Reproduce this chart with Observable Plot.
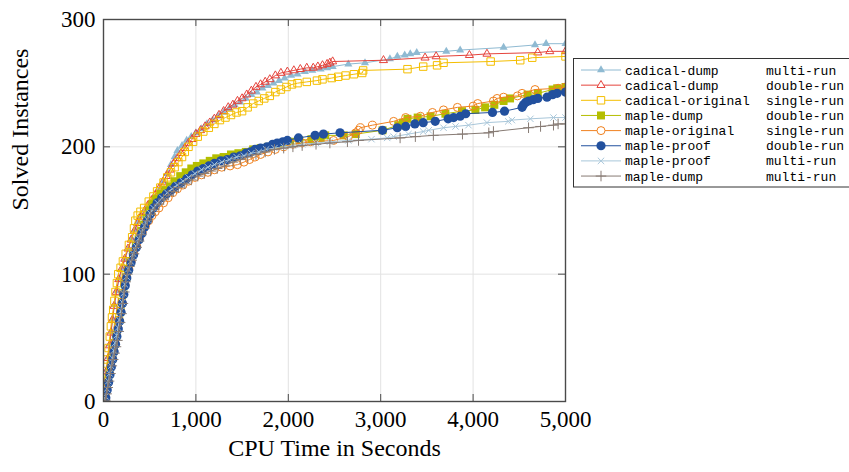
<!DOCTYPE html>
<html>
<head>
<meta charset="utf-8">
<script src="https://cdn.jsdelivr.net/npm/d3@7"></script>
<script src="https://cdn.jsdelivr.net/npm/@observablehq/plot@0.6"></script>
<style>
  html, body { margin: 0; padding: 0; background: #fff; }
  #chart { position: relative; width: 849px; height: 472px; }
</style>
</head>
<body>
<div id="chart"></div>
<script>
// ---- data (time in seconds, solved instances) ----
const xTicks = [0, 1000, 2000, 3000, 4000, 5000];
const yTicks = [0, 100, 200, 300];
const xLabel = "CPU Time in Seconds";
const yLabel = "Solved Instances";

const names = ["cadical-dump", "cadical-dump", "cadical-original", "maple-dump", "maple-original", "maple-proof", "maple-proof", "maple-dump"];
const runs = ["multi-run", "double-run", "single-run", "double-run", "single-run", "double-run", "multi-run", "multi-run"];

const cadicalDumpMulti = [[0,0],[12,6],[25,15],[40,25],[55,35],[70,45],[85,55],[100,65],[120,76],[145,87],[170,96],[200,104],[235,112],[270,120],[305,128],[340,135],[375,141],[410,146],[450,150],[490,154],[530,158],[570,162],[610,167],[650,173],[690,179],[730,186],[770,192],[800,197],[850,201],[900,205],[950,208],[1000,211],[1060,214],[1120,218],[1180,221],[1240,224],[1300,227],[1360,230],[1420,233],[1480,235],[1540,238],[1600,241],[1660,243],[1720,246],[1780,248],[1840,250],[1900,252],[1960,254],[2030,256],[2100,257],[2180,259],[2260,260],[2350,261],[2420,262],[2480,263],[2650,265],[2830,266],[3100,269],[3180,271],[3260,272],[3320,273],[3390,274],[3710,275],[3860,276],[4330,278],[4670,280],[4790,281],[5000,281]];
const cadicalDumpDouble = [[0,0],[10,5],[22,14],[36,24],[50,34],[65,44],[80,54],[96,64],[115,75],[138,86],[165,96],[195,104],[230,112],[265,120],[300,127],[335,134],[370,140],[405,145],[440,149],[480,154],[520,158],[560,162],[600,167],[640,172],[680,177],[720,182],[760,187],[800,191],[840,195],[880,199],[920,203],[960,206],[1000,210],[1050,213],[1100,216],[1150,219],[1200,222],[1250,225],[1300,228],[1350,231],[1400,233],[1450,236],[1500,238],[1550,241],[1600,244],[1650,247],[1700,249],[1750,251],[1800,253],[1860,256],[1920,258],[1990,259],[2060,260],[2130,261],[2200,262],[2270,262],[2320,263],[2370,264],[2420,265],[2450,266],[2480,267],[3030,268],[3480,270],[3600,271],[3960,272],[4150,273],[4700,274],[4830,275],[5000,275]];
const cadicalOriginal = [[0,0],[5,5],[12,12],[20,17],[30,24],[42,33],[55,42],[68,51],[80,59],[92,66],[105,72],[118,79],[130,86],[145,93],[160,100],[185,105],[210,110],[240,116],[275,123],[310,129],[330,136],[345,142],[370,146],[400,149],[440,152],[490,157],[540,161],[580,165],[615,168],[650,172],[690,176],[730,180],[770,184],[810,188],[850,192],[880,196],[920,200],[970,204],[1020,208],[1080,212],[1140,215],[1200,218],[1260,221],[1320,223],[1380,225],[1440,227],[1500,228],[1560,231],[1620,234],[1680,236],[1740,238],[1800,240],[1860,243],[1920,245],[1980,247],[2040,249],[2100,250],[2200,251],[2310,252],[2370,253],[2470,254],[2540,255],[2620,256],[2710,257],[2800,258],[2810,260],[3290,261],[3460,263],[3610,264],[3680,266],[4190,267],[4510,268],[4640,270],[5000,271]];
const mapleDumpDouble = [[0,0],[20,4],[35,10],[50,16],[65,22],[80,28],[95,34],[110,40],[125,46],[140,52],[155,58],[170,64],[185,71],[200,78],[215,85],[230,92],[248,98],[270,104],[295,110],[320,116],[350,122],[380,128],[410,134],[440,139],[470,144],[500,150],[530,155],[570,159],[620,163],[670,166],[720,169],[770,173],[830,177],[890,180],[950,183],[1010,185],[1080,187],[1150,189],[1220,191],[1300,192],[1380,194],[1460,195],[1540,196],[1620,198],[1700,199],[1780,200],[1860,202],[1940,203],[2020,204],[2120,205],[2250,206],[2350,207],[2400,209],[2600,209],[2730,210],[3020,213],[3190,217],[3240,219],[3290,222],[3400,223],[3540,224],[3700,226],[3880,228],[4025,229],[4130,231],[4230,233],[4330,236],[4400,238],[4590,241],[4700,242],[4860,245],[4910,246],[5000,247]];
const mapleOriginal = [[0,0],[20,4],[35,10],[50,16],[65,22],[80,28],[95,34],[110,40],[125,46],[140,52],[155,58],[170,64],[185,71],[200,78],[215,85],[232,92],[250,98],[275,104],[300,110],[330,116],[360,122],[390,128],[420,133],[455,138],[490,142],[525,146],[560,149],[600,152],[650,156],[700,160],[750,164],[800,167],[860,170],[920,173],[990,176],[1060,178],[1130,180],[1200,182],[1280,184],[1370,185],[1450,186],[1520,188],[1580,190],[1640,192],[1700,194],[1780,196],[1860,198],[1950,200],[2050,202],[2150,203],[2240,204],[2490,205],[2650,208],[2730,211],[2760,213],[2780,215],[2910,217],[3140,220],[3270,223],[3430,224],[3560,227],[3680,229],[3830,231],[4000,232],[4050,234],[4220,236],[4260,238],[4330,239],[4480,240],[4530,242],[4670,245],[4920,246],[5000,247]];
const mapleProofDouble = [[0,0],[25,3],[40,9],[55,15],[70,21],[85,27],[100,33],[115,39],[130,45],[145,51],[160,57],[175,63],[190,70],[205,77],[220,84],[235,91],[252,97],[272,103],[298,109],[325,115],[355,121],[385,127],[415,132],[445,137],[475,142],[505,147],[540,152],[580,156],[630,160],[680,163],[730,166],[780,169],[840,172],[900,175],[960,178],[1020,181],[1080,183],[1140,185],[1200,187],[1270,189],[1340,190],[1410,192],[1480,193],[1540,195],[1590,196],[1640,198],[1700,199],[1770,200],[1830,202],[1880,203],[1940,204],[1990,205],[2110,207],[2290,209],[2380,210],[2560,211],[3020,213],[3180,215],[3270,216],[3370,218],[3460,219],[3590,220],[3730,222],[3790,223],[3860,224],[3920,226],[4210,227],[4340,228],[4530,231],[4545,233],[4570,235],[4600,236],[4650,237],[4700,238],[4800,239],[4860,241],[4910,242],[5000,243]];
const mapleProofMulti = [[0,0],[22,4],[37,10],[52,16],[67,22],[82,28],[97,34],[112,40],[127,46],[142,52],[157,58],[172,64],[187,71],[202,78],[217,85],[232,92],[250,98],[270,104],[295,110],[322,116],[352,122],[382,128],[412,133],[442,138],[472,143],[502,148],[540,152],[585,156],[635,160],[690,164],[745,167],[800,170],[860,173],[920,176],[990,179],[1060,182],[1130,184],[1200,186],[1280,188],[1360,190],[1440,192],[1520,193],[1600,195],[1680,196],[1760,198],[1850,199],[1950,200],[2050,201],[2150,202],[2300,203],[2450,204],[2650,205],[2900,206],[3070,207],[3140,208],[3300,210],[3460,212],[3520,213],[3680,215],[3810,216],[3950,217],[4150,219],[4380,220],[4420,221],[4620,222],[4870,223],[5000,223]];
const mapleDumpMulti = [[0,0],[20,1],[33,6],[46,11],[60,16],[75,22],[90,28],[105,33],[120,38],[135,43],[150,48],[165,55],[180,62],[195,69],[210,77],[225,86],[240,94],[258,100],[280,106],[305,111],[330,116],[358,121],[385,126],[410,131],[440,136],[475,142],[510,147],[550,151],[600,155],[650,159],[700,162],[755,165],[810,168],[880,171],[950,174],[1020,177],[1090,179],[1160,181],[1230,183],[1310,185],[1400,188],[1480,190],[1560,192],[1650,194],[1750,196],[1850,198],[1950,199],[2050,200],[2150,201],[2300,202],[2450,203],[2640,204],[2760,205],[3210,207],[3375,208],[3570,209],[3885,210],[4170,211],[4220,212],[4600,215],[4730,216],[4870,217],[4920,218],[5000,218]];

const seriesData = [cadicalDumpMulti, cadicalDumpDouble, cadicalOriginal, mapleDumpDouble, mapleOriginal, mapleProofDouble, mapleProofMulti, mapleDumpMulti];

// ---- styles ----
const colors = ["#8fbad2", "#e5443c", "#f4be00", "#b4be00", "#f08220", "#22509e", "#a9c7da", "#877b74"];
const symbols = ["triangle", "triangle", "square", "square", "circle", "circle", "times", "plus"];
const filled = [true, false, false, true, false, true, false, false];
const radii = [3, 3, 4.2, 4.5, 4, 4.6, 3, 3.5];

const series = seriesData.map((d, i) => ({
  name: names[i], run: runs[i], color: colors[i], symbol: symbols[i], filled: filled[i], r: radii[i],
  rows: d.map(([t, s]) => ({t, s}))
}));

const W = 849, H = 472;
const mL = 103, mR = 284, mT = 19, mB = 71;
const frameW = W - mL - mR, frameH = H - mT - mB;
const tickLen = 7;
const axisColor = "#4a4a4a";

const lineMarks = series.map(s => Plot.line(s.rows, {x: "t", y: "s", stroke: s.color, strokeWidth: 1, clip: true}));
const dotMarks = series.map(s => Plot.dot(s.rows, {
  x: "t", y: "s", symbol: s.symbol, r: s.r, clip: true,
  fill: s.filled ? s.color : "none",
  stroke: s.filled ? "none" : s.color,
  strokeWidth: 1
}));

const innerX = xTicks.slice(1, -1), innerY = yTicks.slice(1, -1);

const plot = Plot.plot({
  width: W, height: H,
  marginLeft: mL, marginRight: mR, marginTop: mT, marginBottom: mB,
  x: {domain: [0, 5000]},
  y: {domain: [0, 300]},
  style: {fontFamily: "'Liberation Serif', serif", background: "#fff", color: "#000"},
  marks: [
    Plot.ruleX(innerX, {stroke: "#e2e2e2", strokeWidth: 1}),
    Plot.ruleY(innerY, {stroke: "#e2e2e2", strokeWidth: 1}),
    ...series.flatMap((s, i) => [lineMarks[i], dotMarks[i]]),
    Plot.ruleX(innerX, {stroke: axisColor, strokeWidth: 1, insetTop: frameH - tickLen}),
    Plot.ruleX(innerX, {stroke: axisColor, strokeWidth: 1, insetBottom: frameH - tickLen}),
    Plot.ruleY(innerY, {stroke: axisColor, strokeWidth: 1, insetRight: frameW - tickLen}),
    Plot.ruleY(innerY, {stroke: axisColor, strokeWidth: 1, insetLeft: frameW - tickLen}),
    Plot.frame({stroke: axisColor, strokeWidth: 1.4}),
    Plot.axisX(xTicks, {tickSize: 0, tickPadding: 9, tickFormat: d3.format(","), label: null, fontSize: 23, fill: "#000"}),
    Plot.axisY(yTicks, {tickSize: 0, tickPadding: 8, label: null, fontSize: 23, fill: "#000"}),
    Plot.text([xLabel], {frameAnchor: "bottom", dy: 54, fontSize: 24, fill: "#000"}),
    Plot.text([yLabel], {frameAnchor: "left", dx: -83, rotate: -90, fontSize: 24, fill: "#000"})
  ]
});

document.getElementById("chart").appendChild(plot);

// ---- legend ----
const svg = d3.select(plot);
const lg = svg.append("g").attr("class", "legend").attr("text-anchor", "start");
const boxX = 573.5, boxY = 58.5, boxH = 128.5;
lg.append("rect").attr("x", boxX).attr("y", boxY).attr("width", 290).attr("height", boxH)
  .attr("fill", "#fff").attr("stroke", "#333").attr("stroke-width", 1);
const symMap = {triangle: d3.symbolTriangle, square: d3.symbolSquare, circle: d3.symbolCircle, times: d3.symbolTimes, plus: d3.symbolPlus};
series.forEach((s, i) => {
  const y = 70 + i * 15.15;
  lg.append("line").attr("x1", 581).attr("x2", 621).attr("y1", y).attr("y2", y)
    .attr("stroke", s.color).attr("stroke-width", 1);
  lg.append("path").attr("transform", `translate(601,${y})`)
    .attr("d", d3.symbol(symMap[s.symbol], Math.PI * s.r * s.r)())
    .attr("fill", s.filled ? s.color : "#fff")
    .attr("stroke", s.filled ? "none" : s.color).attr("stroke-width", 1);
  lg.append("text").attr("x", 625).attr("y", y).attr("dy", "0.35em").attr("text-anchor", "start")
    .attr("font-family", "'Liberation Mono', 'DejaVu Sans Mono', monospace").attr("font-size", 13)
    .attr("fill", "#000").text(s.name);
  lg.append("text").attr("x", 766).attr("y", y).attr("dy", "0.35em").attr("text-anchor", "start")
    .attr("font-family", "'Liberation Mono', 'DejaVu Sans Mono', monospace").attr("font-size", 13)
    .attr("fill", "#000").text(s.run);
});
</script>
</body>
</html>
